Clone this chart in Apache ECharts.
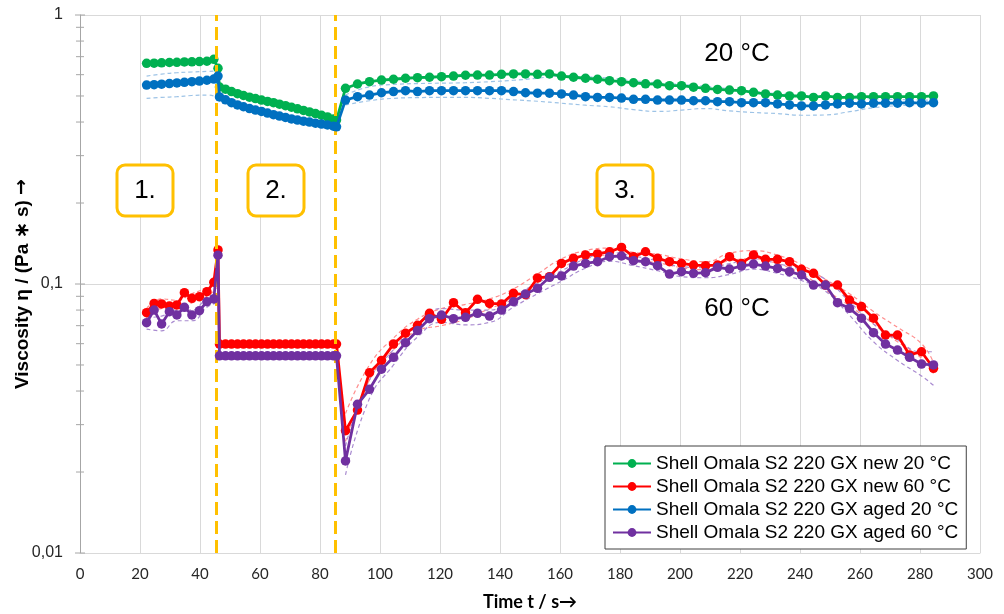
<!DOCTYPE html>
<html>
<head>
<meta charset="utf-8">
<title>Viscosity over time</title>
<script src="https://cdn.jsdelivr.net/npm/echarts@6/dist/echarts.min.js"></script>
<style>
  html, body { margin: 0; padding: 0; background: #fff; }
  #chart { width: 1004px; height: 614px; }
</style>
</head>
<body>
<div id="chart"></div>
<script>
// time stamps (s) of the three test phases
const timeP1 = [22.2, 24.7, 27.2, 29.8, 32.3, 34.8, 37.3, 39.8, 42.3, 44.6, 46.0]
const timeP2 = [46.5, 48.5, 50.5, 52.5, 54.5, 56.5, 58.5, 60.5, 62.5, 64.5, 66.5,
  68.5, 70.5, 72.5, 74.5, 76.5, 78.5, 80.5, 82.5, 84.5, 85.5]
const timeP3 = [88.5, 92.5, 96.5, 100.5, 104.5, 108.5, 112.5, 116.5, 120.5, 124.5,
  128.5, 132.5, 136.5, 140.5, 144.5, 148.5, 152.5, 156.5, 160.5, 164.5,
  168.5, 172.5, 176.5, 180.5, 184.5, 188.5, 192.5, 196.5, 200.5, 204.5,
  208.5, 212.5, 216.5, 220.5, 224.5, 228.5, 232.5, 236.5, 240.5, 244.5,
  248.5, 252.5, 256.5, 260.5, 264.5, 268.5, 272.5, 276.5, 280.5, 284.5]

// viscosity (Pa*s), phase 1 | phase 2 | phase 3
const newAt20 = [
  0.661, 0.662, 0.664, 0.666, 0.667, 0.669, 0.670, 0.671, 0.673, 0.684, 0.634,
  0.540, 0.530, 0.519, 0.510, 0.502, 0.495, 0.489, 0.483, 0.477, 0.472, 0.466,
  0.460, 0.454, 0.448, 0.442, 0.436, 0.430, 0.424, 0.418, 0.411, 0.407,
  0.534, 0.554, 0.565, 0.573, 0.577, 0.582, 0.585, 0.587, 0.590, 0.593,
  0.597, 0.598, 0.598, 0.602, 0.604, 0.604, 0.602, 0.604, 0.593, 0.587,
  0.582, 0.577, 0.570, 0.565, 0.560, 0.555, 0.554, 0.546, 0.546, 0.539,
  0.534, 0.529, 0.526, 0.523, 0.516, 0.509, 0.504, 0.500, 0.500, 0.494,
  0.500, 0.494, 0.494, 0.497, 0.497, 0.497, 0.497, 0.497, 0.497, 0.500
]
const newAt60 = [
  0.0782, 0.0847, 0.0843, 0.0829, 0.0836, 0.0928, 0.0885, 0.0897, 0.0936, 0.1015, 0.1338,
  0.0598, 0.0598, 0.0598, 0.0598, 0.0598, 0.0598, 0.0598, 0.0598, 0.0598, 0.0598, 0.0598,
  0.0598, 0.0598, 0.0598, 0.0598, 0.0598, 0.0598, 0.0598, 0.0598, 0.0598, 0.0598,
  0.0285, 0.0340, 0.0468, 0.0520, 0.0598, 0.0656, 0.0702, 0.0778, 0.0739, 0.0852,
  0.0782, 0.0877, 0.0847, 0.0843, 0.0923, 0.0912, 0.1053, 0.1065, 0.1193, 0.1246,
  0.1282, 0.1293, 0.1318, 0.1368, 0.1263, 0.1318, 0.1246, 0.1210, 0.1193, 0.1176,
  0.1170, 0.1176, 0.1263, 0.1193, 0.1282, 0.1235, 0.1235, 0.1210, 0.1134, 0.1096,
  0.0991, 0.0991, 0.0872, 0.0824, 0.0746, 0.0646, 0.0646, 0.0545, 0.0560, 0.0486
]
const agedAt20 = [
  0.549, 0.551, 0.553, 0.556, 0.559, 0.562, 0.565, 0.568, 0.572, 0.578, 0.593,
  0.496, 0.484, 0.472, 0.463, 0.456, 0.449, 0.443, 0.438, 0.432, 0.426, 0.421,
  0.416, 0.411, 0.407, 0.403, 0.400, 0.396, 0.393, 0.390, 0.386, 0.384,
  0.483, 0.497, 0.504, 0.514, 0.519, 0.523, 0.519, 0.523, 0.523, 0.523,
  0.523, 0.523, 0.523, 0.523, 0.519, 0.514, 0.512, 0.512, 0.509, 0.504,
  0.497, 0.494, 0.494, 0.491, 0.486, 0.486, 0.483, 0.483, 0.483, 0.480,
  0.480, 0.476, 0.476, 0.472, 0.472, 0.472, 0.467, 0.463, 0.459, 0.459,
  0.463, 0.467, 0.470, 0.467, 0.470, 0.470, 0.470, 0.472, 0.470, 0.472
]
const agedAt60 = [
  0.0718, 0.0800, 0.0710, 0.0789, 0.0767, 0.0819, 0.0767, 0.0796, 0.0859, 0.0880, 0.1280,
  0.0541, 0.0541, 0.0541, 0.0541, 0.0541, 0.0541, 0.0541, 0.0541, 0.0541, 0.0541, 0.0541,
  0.0541, 0.0541, 0.0541, 0.0541, 0.0541, 0.0541, 0.0541, 0.0541, 0.0541, 0.0541,
  0.0220, 0.0357, 0.0406, 0.0482, 0.0534, 0.0605, 0.0671, 0.0743, 0.0767, 0.0743,
  0.0752, 0.0778, 0.0760, 0.0800, 0.0859, 0.0918, 0.0964, 0.1059, 0.1071, 0.1166,
  0.1193, 0.1210, 0.1263, 0.1271, 0.1221, 0.1210, 0.1170, 0.1089, 0.1111, 0.1096,
  0.1102, 0.1153, 0.1137, 0.1166, 0.1186, 0.1166, 0.1143, 0.1111, 0.1080, 0.0991,
  0.0991, 0.0852, 0.0812, 0.0746, 0.0659, 0.0598, 0.0568, 0.0534, 0.0504, 0.0500
]

// scatter bands (dashed): phase 1 | phase 3
const bandTimeP1 = [22.2, 27.2, 32.3, 37.3, 42.3, 45.5]
const bandTimeP3 = [88.5, 96.5, 104.5, 112.5, 120.5, 128.5, 136.5, 144.5, 152.5, 160.5,
  168.5, 176.5, 184.5, 192.5, 200.5, 208.5, 216.5, 224.5, 232.5, 240.5,
  248.5, 256.5, 264.5, 272.5, 280.5, 284.5]
const agedAt20Upper = [
  0.593, 0.603, 0.610, 0.614, 0.617, 0.619,
  0.504, 0.541, 0.552, 0.556, 0.558, 0.560, 0.565, 0.572, 0.582, 0.594,
  0.590, 0.582, 0.570, 0.560, 0.552, 0.543, 0.532, 0.520, 0.510, 0.502,
  0.495, 0.490, 0.488, 0.485, 0.483, 0.482
]
const agedAt20Lower = [
  0.490, 0.494, 0.497, 0.502, 0.504, 0.497,
  0.463, 0.480, 0.490, 0.493, 0.494, 0.494, 0.490, 0.484, 0.478, 0.470,
  0.462, 0.456, 0.445, 0.438, 0.443, 0.449, 0.440, 0.434, 0.430, 0.424,
  0.425, 0.437, 0.452, 0.460, 0.464, 0.466
]
const newAt60Upper = [
  0.081, 0.088, 0.087, 0.092, 0.097, 0.104,
  0.0330, 0.0500, 0.0630, 0.0740, 0.0810, 0.0840, 0.0880, 0.0960, 0.1090, 0.1240,
  0.1330, 0.1360, 0.1310, 0.1290, 0.1240, 0.1210, 0.1300, 0.1330, 0.1280, 0.1180,
  0.1040, 0.0920, 0.0790, 0.0690, 0.0600, 0.0510
]
const newAt60Lower = [
  0.075, 0.081, 0.080, 0.085, 0.090, 0.097,
  0.0260, 0.0440, 0.0570, 0.0670, 0.0700, 0.0740, 0.0810, 0.0880, 0.1010, 0.1150,
  0.1240, 0.1280, 0.1220, 0.1200, 0.1150, 0.1130, 0.1220, 0.1240, 0.1190, 0.1090,
  0.0950, 0.0830, 0.0710, 0.0610, 0.0530, 0.0465
]
const agedAt60Upper = [
  0.075, 0.076, 0.080, 0.080, 0.089, 0.092,
  0.0250, 0.0440, 0.0570, 0.0710, 0.0810, 0.0800, 0.0800, 0.0900, 0.1010, 0.1120,
  0.1240, 0.1310, 0.1270, 0.1220, 0.1160, 0.1150, 0.1190, 0.1240, 0.1190, 0.1130,
  0.1040, 0.0860, 0.0710, 0.0620, 0.0560, 0.0560
]
const agedAt60Lower = [
  0.068, 0.067, 0.073, 0.073, 0.082, 0.085,
  0.0195, 0.0375, 0.0500, 0.0635, 0.0720, 0.0705, 0.0720, 0.0820, 0.0920, 0.1025,
  0.1145, 0.1215, 0.1170, 0.1120, 0.1065, 0.1055, 0.1085, 0.1135, 0.1095, 0.1030,
  0.0940, 0.0765, 0.0610, 0.0520, 0.0455, 0.0420
]

const phaseBorders = [45.5, 85]
const yMajorTicks = [0.01, 0.1, 1]
const yMinorTicks = [0.02, 0.03, 0.04, 0.05, 0.06, 0.07, 0.08, 0.09,
  0.2, 0.3, 0.4, 0.5, 0.6, 0.7, 0.8, 0.9]

const seriesNames = [
  'Shell Omala S2 220 GX new 20 °C',
  'Shell Omala S2 220 GX new 60 °C',
  'Shell Omala S2 220 GX aged 20 °C',
  'Shell Omala S2 220 GX aged 60 °C'
]
const colors = ['#00B050', '#FF0000', '#0070C0', '#7030A0']

const allTimes = timeP1.concat(timeP2, timeP3)
const pair = (ts, vs) => ts.map((t, i) => [t, vs[i]])

// a '-' point breaks the band line over phase 2
const bandTimes = bandTimeP1.concat([65], bandTimeP3)
const withGap = (vs) => vs.slice(0, bandTimeP1.length).concat(['-'], vs.slice(bandTimeP1.length))

const font = '"Liberation Sans", Arial, sans-serif'

const mainSeries = [newAt20, newAt60, agedAt20, agedAt60].map((vals, i) => ({
  name: seriesNames[i],
  type: 'line',
  data: pair(allTimes, vals),
  symbol: 'circle',
  symbolSize: 9.5,
  showSymbol: true,
  showAllSymbol: true,
  z: 3 + i,
  itemStyle: { color: colors[i] },
  lineStyle: { color: colors[i], width: 2.8 }
}))

// orange phase borders on top of everything
mainSeries[3].markLine = {
  silent: true,
  symbol: 'none',
  label: { show: false },
  lineStyle: { color: '#FFC000', width: 3, type: [13, 6] },
  data: phaseBorders.map(x => ({ xAxis: x }))
}

const bands = [
  [agedAt20Upper, '#9DC3E6'], [agedAt20Lower, '#9DC3E6'],
  [newAt60Upper, '#FF8C8C'], [newAt60Lower, '#FF8C8C'],
  [agedAt60Upper, '#A98BD0'], [agedAt60Lower, '#A98BD0']
]
const bandSeries = bands.map(([vals, color]) => ({
  type: 'line',
  data: pair(bandTimes, withGap(vals)),
  smooth: true,
  showSymbol: false,
  silent: true,
  z: 2,
  lineStyle: { color: color, width: 1.2, type: [4, 3] }
}))

// tick marks crossing the y axis (log spaced)
const tickSeries = {
  type: 'custom',
  silent: true,
  clip: false,
  z: 1,
  data: yMajorTicks.map(v => [0, v, 5]).concat(yMinorTicks.map(v => [0, v, 4])),
  renderItem: (params, api) => {
    const p = api.coord([api.value(0), api.value(1)])
    const len = api.value(2)
    return {
      type: 'line',
      shape: { x1: p[0] - len, y1: p[1], x2: p[0] + len, y2: p[1] },
      style: { stroke: '#A6A6A6', lineWidth: 1 }
    }
  }
}

const label = (cx, cy, txt) => ({
  type: 'text',
  x: cx,
  y: cy,
  z: 120,
  style: {
    text: txt,
    font: '26px ' + font,
    fill: '#000',
    textAlign: 'center',
    textVerticalAlign: 'middle',
    align: 'center',
    verticalAlign: 'middle'
  }
})
const box = (x) => ({
  type: 'rect',
  shape: { x: x, y: 165, width: 56, height: 51, r: 8 },
  style: { fill: '#fff', stroke: '#FFC000', lineWidth: 3 },
  z: 100
})

const chart = echarts.init(document.getElementById('chart'))
chart.setOption({
  animation: false,
  backgroundColor: '#fff',
  grid: { left: 80, right: 24, top: 15, bottom: 61, outerBoundsMode: 'none', containLabel: false },
  legend: {
    data: seriesNames,
    orient: 'vertical',
    left: 605,
    top: 446,
    padding: [8, 8, 7, 7],
    itemGap: 4,
    itemWidth: 38,
    itemHeight: 11,
    backgroundColor: '#fff',
    borderColor: '#404040',
    borderWidth: 1,
    textStyle: { fontFamily: font, fontSize: 19, color: '#000', lineHeight: 19 }
  },
  xAxis: {
    type: 'value',
    min: 0,
    max: 300,
    interval: 20,
    name: 'Time t / s→',
    nameLocation: 'middle',
    nameGap: 40,
    nameMoveOverlap: false,
    nameTextStyle: { fontFamily: 'Lato', fontWeight: 'bold', fontSize: 18, color: '#000' },
    axisLine: { show: true, lineStyle: { color: '#D9D9D9' } },
    axisTick: { show: false },
    axisLabel: { fontFamily: 'Lato', fontSize: 15, color: '#262626', margin: 14 },
    splitLine: { show: true, lineStyle: { color: '#D9D9D9' } }
  },
  yAxis: {
    type: 'log',
    logBase: 10,
    min: 0.01,
    max: 1,
    name: '{t|Viscosity η / (Pa ∗ s) }{a|→}',
    nameLocation: 'middle',
    nameGap: 48,
    nameMoveOverlap: false,
    nameTextStyle: {
      rich: {
        t: { fontFamily: font, fontWeight: 'bold', fontSize: 19, color: '#000' },
        a: { fontFamily: '"DejaVu Sans"', fontWeight: 'bold', fontSize: 19, color: '#000' }
      }
    },
    axisLine: { show: true, lineStyle: { color: '#A6A6A6' } },
    axisTick: { show: false },
    axisLabel: {
      fontFamily: font,
      fontSize: 16,
      color: '#262626',
      margin: 17,
      formatter: v => String(+v.toPrecision(2)).replace('.', ',')
    },
    splitLine: { show: true, lineStyle: { color: '#D9D9D9' } }
  },
  graphic: [
    box(117), box(248), box(597),
    label(145, 191, '1.'),
    label(276, 191, '2.'),
    label(625, 191, '3.'),
    label(737, 54, '20 °C'),
    label(737, 309, '60 °C')
  ],
  series: [tickSeries].concat(bandSeries, mainSeries)
})
</script>
</body>
</html>
